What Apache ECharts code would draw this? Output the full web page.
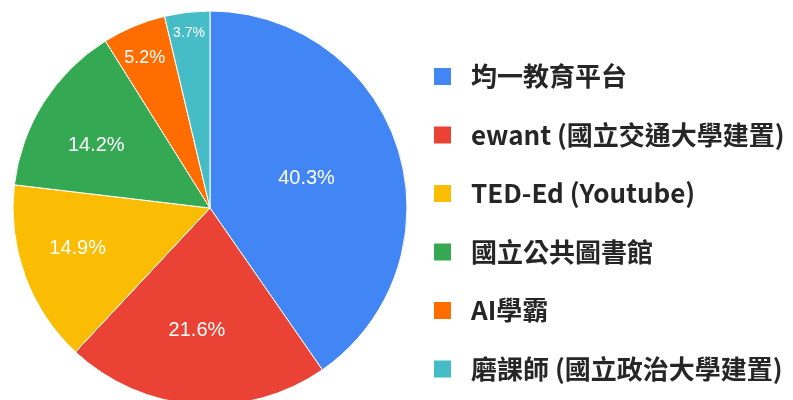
<!DOCTYPE html>
<html>
<head>
<meta charset="utf-8">
<script src="https://cdn.jsdelivr.net/npm/echarts@6/dist/echarts.min.js"></script>
<style>
html,body{margin:0;padding:0;background:#fff;}
#chart{width:793px;height:400px;}
</style>
</head>
<body>
<div id="chart"></div>
<script>
// ---- data ----
const categories = ['均一教育平台', 'ewant (國立交通大學建置)', 'TED-Ed (Youtube)', '國立公共圖書館', 'AI學霸', '磨課師 (國立政治大學建置)'];
const shares = [40.3, 21.6, 14.9, 14.2, 5.2, 3.7];
const colors = ['#4285F4', '#EA4335', '#FBBC04', '#34A853', '#FF6D01', '#46BDC6'];

// ---- style / layout ----
const CENTER = [210, 208];
const R = 197;
// label placement along radius (fraction of R), font size and small nudge per slice label
const labelFrac = [0.53, 0.62, 0.70, 0.65, 0.83, 0.90];
const labelSize = [20, 20, 20, 20, 18, 14];
const labelNudge = [[-6, 3], [-4, -2], [0, -8], [-3, 8], [-1, 4], [0, 4]];

const pieData = categories.map((n, i) => ({ name: n, value: shares[i], itemStyle: { color: colors[i] } }));

const series = [{
  type: 'pie',
  center: CENTER,
  radius: [0, R],
  startAngle: 90,
  clockwise: true,
  data: pieData,
  label: { show: false },
  labelLine: { show: false },
  itemStyle: { borderColor: '#ffffff', borderWidth: 1 },
  emphasis: { disabled: true },
  animation: false
}];

categories.forEach((n, k) => {
  const mid = labelFrac[k] * R;
  const r0 = Math.max(0, 2 * mid - R);
  series.push({
    type: 'pie',
    center: CENTER,
    radius: [r0, R],
    startAngle: 90,
    clockwise: true,
    silent: true,
    z: 3,
    emphasis: { disabled: true },
    animation: false,
    labelLine: { show: false },
    itemStyle: { color: 'rgba(0,0,0,0)', borderWidth: 0 },
    label: {
      position: 'inside',
      color: '#ffffff',
      fontSize: labelSize[k],
      fontFamily: '"Liberation Sans", Arial, sans-serif'
    },
    data: categories.map((m, i) => ({
      name: m,
      value: shares[i],
      label: {
        show: i === k,
        position: 'inside',
        formatter: shares[i].toFixed(1) + '%',
        color: '#ffffff',
        fontSize: labelSize[k],
        offset: labelNudge[k],
        fontFamily: '"Liberation Sans", Arial, sans-serif'
      }
    }))
  });
});

const chart = echarts.init(document.getElementById('chart'), null, { renderer: 'canvas' });
chart.setOption({
  backgroundColor: '#ffffff',
  color: colors,
  legend: {
    orient: 'vertical',
    left: 432,
    top: 63,
    padding: 0,
    data: categories,
    icon: 'rect',
    itemWidth: 19,
    itemHeight: 19,
    itemGap: 31.5,
    selectedMode: false,
    textStyle: {
      fontSize: 26,
      lineHeight: 27,
      fontWeight: 'bold',
      color: '#262626',
      fontFamily: '"Noto Sans CJK TC", "Noto Sans", sans-serif',
      padding: [0, 0, 0, 14]
    }
  },
  series: series
});
</script>
</body>
</html>
